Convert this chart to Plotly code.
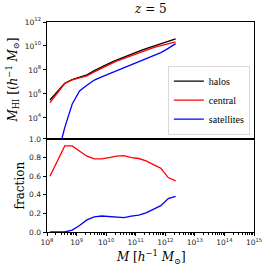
import plotly.graph_objects as go

# log10 of halo mass bins [h^-1 Msun]
log_mass = [8.10, 8.35, 8.60, 8.85, 9.10, 9.35, 9.60, 9.85, 10.10, 10.35,
            10.60, 10.85, 11.10, 11.35, 11.60, 11.85, 12.10, 12.35]
# log10 M_HI
log_mhi_halos = [5.50, 6.20, 6.90, 7.20, 7.40, 7.60, 7.95, 8.28, 8.55, 8.83,
                 9.05, 9.27, 9.55, 9.78, 10.00, 10.20, 10.40, 10.60]
log_mhi_central = [5.28, 6.09, 6.87, 7.17, 7.34, 7.51, 7.84, 8.18, 8.45, 8.74,
                   8.96, 9.17, 9.45, 9.66, 9.86, 10.04, 10.17, 10.34]
log_mhi_sat = [None, 0.80, 3.20, 5.15, 6.25, 6.72, 7.16, 7.42, 7.67, 7.92,
               8.17, 8.42, 8.67, 8.92, 9.20, 9.45, 9.80, 10.20]
frac_central = [0.60, 0.77, 0.925, 0.925, 0.87, 0.815, 0.785, 0.785, 0.80, 0.815,
                0.82, 0.80, 0.79, 0.765, 0.725, 0.685, 0.585, 0.55]
frac_sat = [0.0, 0.0, 0.0, 0.02, 0.07, 0.13, 0.163, 0.172, 0.165, 0.155,
            0.155, 0.17, 0.182, 0.205, 0.245, 0.283, 0.36, 0.383]

x_tick_exp = [8, 9, 10, 11, 12, 13, 14, 15]
y_tick_exp = [4, 6, 8, 10, 12]
frac_ticks = [0.0, 0.2, 0.4, 0.6, 0.8, 1.0]

M = [10 ** v for v in log_mass]
def pw(a):
    return [None if v is None else 10 ** v for v in a]

fig = go.Figure()
lw = 1.3
fig.add_trace(go.Scatter(x=M, y=pw(log_mhi_halos), mode="lines", name="halos",
                         line=dict(color="black", width=lw), xaxis="x2", yaxis="y2"))
fig.add_trace(go.Scatter(x=M, y=pw(log_mhi_central), mode="lines", name="central",
                         line=dict(color="#ff0000", width=lw), xaxis="x2", yaxis="y2"))
fig.add_trace(go.Scatter(x=M, y=pw(log_mhi_sat), mode="lines", name="satellites",
                         line=dict(color="#0000ff", width=lw), xaxis="x2", yaxis="y2"))
fig.add_trace(go.Scatter(x=M, y=frac_central, mode="lines", showlegend=False,
                         line=dict(color="#ff0000", width=lw), xaxis="x", yaxis="y"))
fig.add_trace(go.Scatter(x=M, y=frac_sat, mode="lines", showlegend=False,
                         line=dict(color="#0000ff", width=lw), xaxis="x", yaxis="y"))

tickfont = dict(family="DejaVu Sans", size=7.5, color="#222")
minor_vals = [k * 10 ** e for e in range(8, 15) for k in range(2, 10)]
split = 0.443

fig.update_layout(
    width=274, height=271,
    margin=dict(l=47, r=15, t=22, b=39),
    paper_bgcolor="white", plot_bgcolor="white",
    showlegend=True,
    legend=dict(x=0.981, y=0.463, xanchor="right", yanchor="bottom",
                bordercolor="#d0d0d0", borderwidth=0.8, bgcolor="white",
                font=dict(family="Liberation Serif", size=10, color="black"),
                itemwidth=30, tracegroupgap=0),
    xaxis=dict(type="log", range=[8, 15], domain=[0, 1], anchor="y",
               tickvals=[10 ** e for e in x_tick_exp],
               ticktext=["10<sup>%d</sup>" % e for e in x_tick_exp],
               ticks="outside", ticklen=3.5, tickwidth=0.8, tickcolor="black",
               minor=dict(tickvals=minor_vals, ticks="outside", ticklen=2,
                          tickwidth=0.6, tickcolor="black"),
               showline=True, linecolor="black", linewidth=0.9, mirror=True,
               showgrid=False, zeroline=False, tickfont=tickfont),
    yaxis=dict(range=[0, 1], domain=[0, split], anchor="x",
               tickvals=frac_ticks, ticktext=["%.1f" % v for v in frac_ticks],
               ticks="outside", ticklen=3.5, tickwidth=0.8, tickcolor="black",
               showline=True, linecolor="black", linewidth=0.9, mirror=True,
               showgrid=False, zeroline=False, tickfont=tickfont),
    xaxis2=dict(type="log", range=[8, 15], domain=[0, 1], anchor="y2",
                matches="x", showticklabels=False, ticks="",
                showline=True, linecolor="black", linewidth=0.9, mirror=True,
                showgrid=False, zeroline=False),
    yaxis2=dict(type="log", range=[2.25, 12], domain=[split, 1], anchor="x2",
                tickvals=[10 ** e for e in y_tick_exp],
                ticktext=["10<sup>%d</sup>" % e for e in y_tick_exp],
                ticks="outside", ticklen=3.5, tickwidth=0.8, tickcolor="black",
                showline=True, linecolor="black", linewidth=0.9, mirror=True,
                showgrid=False, zeroline=False, tickfont=tickfont),
)

serif = dict(family="DejaVu Serif", color="black")
fig.add_annotation(text="<i>z</i> = 5", xref="paper", yref="paper",
                   x=0.5, y=1.0, yshift=4, xanchor="center", yanchor="bottom",
                   showarrow=False, font=dict(size=12, **serif))
fig.add_annotation(text="<i>M</i> [<i>h</i><sup>−1</sup> <i>M</i><sub>⊙</sub>]",
                   xref="paper", yref="paper", x=0.5, y=0, yshift=-14,
                   xanchor="center", yanchor="top", showarrow=False,
                   font=dict(size=12, **serif))
fig.add_annotation(text="<i>M</i><sub>HI</sub> [(<i>h</i><sup>−1</sup> <i>M</i><sub>⊙</sub>]",
                   xref="paper", yref="paper", x=0, xshift=-34, y=(split + 1) / 2,
                   xanchor="center", yanchor="middle", textangle=-90,
                   showarrow=False, font=dict(size=12, **serif))
fig.add_annotation(text="fraction", xref="paper", yref="paper",
                   x=0, xshift=-27, y=split / 2, xanchor="center", yanchor="middle",
                   textangle=-90, showarrow=False, font=dict(size=12, **serif))

fig.write_html("out.html", config={"displayModeBar": False},
               post_script="document.body.style.margin='0';document.body.style.overflow='hidden';")
